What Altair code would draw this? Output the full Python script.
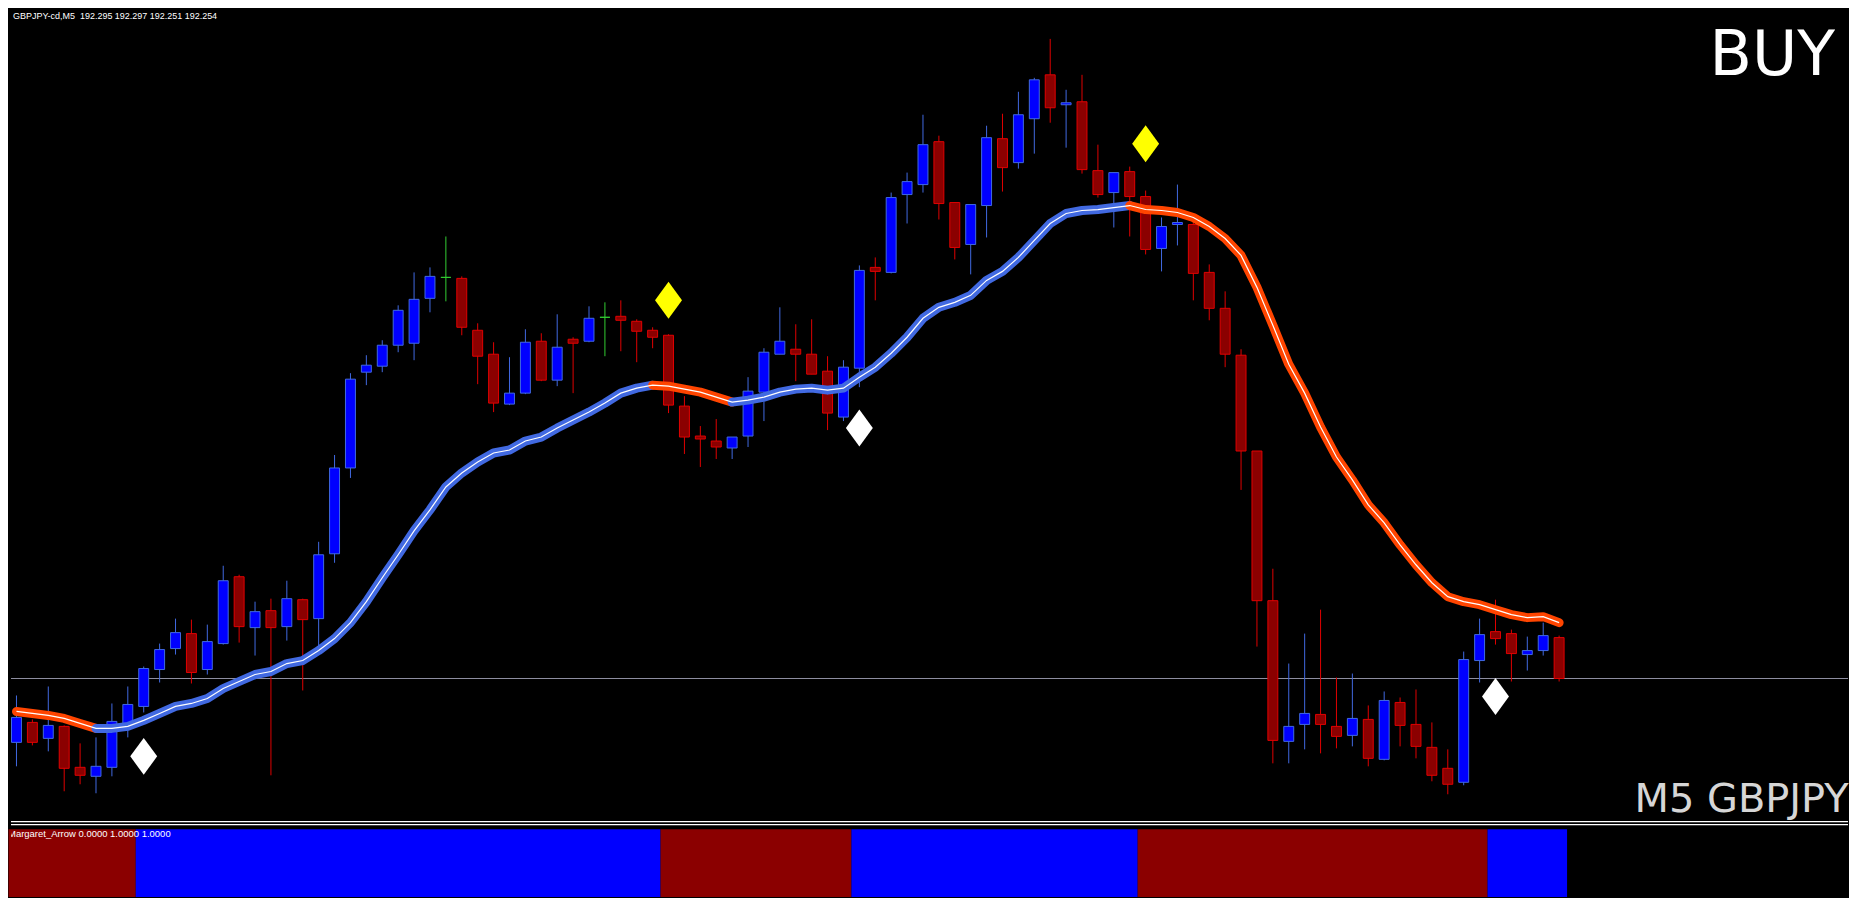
import altair as alt
import pandas as pd

# ---------------- data (GBPJPY M5) ----------------
opens = [192.190, 192.210, 192.194, 192.206, 192.165, 192.156, 192.165, 192.209, 192.226, 192.263,
         192.284, 192.299, 192.263, 192.289, 192.356, 192.305, 192.322, 192.306, 192.333, 192.314,
         192.379, 192.465, 192.561, 192.567, 192.588, 192.590, 192.635, 192.656, 192.655, 192.603,
         192.579, 192.529, 192.540, 192.592, 192.553, 192.594, 192.592, 192.616, 192.617, 192.612,
         192.603, 192.598, 192.527, 192.497, 192.492, 192.485, 192.497, 192.541, 192.579, 192.584,
         192.579, 192.562, 192.516, 192.565, 192.666, 192.661, 192.739, 192.749, 192.792, 192.731,
         192.689, 192.728, 192.795, 192.771, 192.815, 192.859, 192.829, 192.832, 192.763, 192.741,
         192.762, 192.737, 192.685, 192.709, 192.709, 192.661, 192.625, 192.578, 192.482, 192.332,
         192.191, 192.208, 192.218, 192.206, 192.197, 192.213, 192.173, 192.230, 192.208, 192.185,
         192.164, 192.150, 192.272, 192.301, 192.299, 192.278, 192.282, 192.295]
highs = [192.237, 192.213, 192.246, 192.207, 192.189, 192.195, 192.229, 192.246, 192.266, 192.289,
         192.314, 192.313, 192.308, 192.367, 192.358, 192.331, 192.334, 192.352, 192.334, 192.391,
         192.478, 192.560, 192.578, 192.593, 192.628, 192.661, 192.666, 192.697, 192.657, 192.610,
         192.591, 192.576, 192.604, 192.600, 192.619, 192.596, 192.627, 192.631, 192.633, 192.614,
         192.606, 192.599, 192.537, 192.507, 192.514, 192.496, 192.556, 192.585, 192.626, 192.609,
         192.614, 192.577, 192.573, 192.668, 192.676, 192.741, 192.761, 192.819, 192.798, 192.731,
         192.729, 192.808, 192.820, 192.842, 192.856, 192.895, 192.844, 192.859, 192.789, 192.761,
         192.767, 192.743, 192.716, 192.749, 192.713, 192.669, 192.642, 192.584, 192.482, 192.364,
         192.269, 192.299, 192.323, 192.255, 192.259, 192.227, 192.241, 192.235, 192.243, 192.210,
         192.183, 192.281, 192.314, 192.333, 192.303, 192.296, 192.310, 192.297]
lows = [192.166, 192.187, 192.181, 192.141, 192.148, 192.139, 192.156, 192.195, 192.220, 192.250,
        192.278, 192.249, 192.258, 192.288, 192.290, 192.277, 192.157, 192.292, 192.242, 192.286,
        192.370, 192.455, 192.548, 192.561, 192.581, 192.573, 192.621, 192.632, 192.598, 192.549,
        192.521, 192.528, 192.539, 192.552, 192.547, 192.540, 192.591, 192.577, 192.582, 192.571,
        192.585, 192.520, 192.479, 192.466, 192.474, 192.474, 192.486, 192.512, 192.579, 192.552,
        192.559, 192.503, 192.512, 192.546, 192.633, 192.660, 192.710, 192.741, 192.714, 192.674,
        192.659, 192.696, 192.742, 192.765, 192.780, 192.811, 192.786, 192.760, 192.736, 192.706,
        192.697, 192.679, 192.662, 192.688, 192.633, 192.613, 192.566, 192.443, 192.286, 192.169,
        192.169, 192.183, 192.179, 192.184, 192.186, 192.166, 192.172, 192.186, 192.174, 192.151,
        192.138, 192.147, 192.250, 192.288, 192.251, 192.262, 192.277, 192.251]
closes = [192.215, 192.190, 192.207, 192.164, 192.157, 192.166, 192.211, 192.228, 192.264, 192.283,
          192.300, 192.260, 192.291, 192.352, 192.306, 192.321, 192.305, 192.334, 192.313, 192.378,
          192.465, 192.554, 192.568, 192.588, 192.623, 192.634, 192.657, 192.656, 192.606, 192.577,
          192.530, 192.540, 192.591, 192.553, 192.586, 192.590, 192.615, 192.616, 192.613, 192.602,
          192.596, 192.528, 192.496, 192.494, 192.486, 192.496, 192.542, 192.581, 192.592, 192.579,
          192.559, 192.520, 192.566, 192.663, 192.662, 192.736, 192.752, 192.789, 192.730, 192.686,
          192.729, 192.796, 192.766, 192.819, 192.854, 192.826, 192.831, 192.764, 192.739, 192.761,
          192.737, 192.684, 192.707, 192.711, 192.660, 192.625, 192.579, 192.482, 192.332, 192.192,
          192.206, 192.219, 192.208, 192.196, 192.214, 192.174, 192.232, 192.207, 192.186, 192.157,
          192.148, 192.273, 192.298, 192.294, 192.279, 192.282, 192.297, 192.254]
ma_values = [192.221, 192.219, 192.217, 192.214, 192.209, 192.204, 192.204, 192.206, 192.212, 192.219,
             192.226, 192.229, 192.234, 192.244, 192.251, 192.258, 192.261, 192.269, 192.272, 192.282,
             192.294, 192.310, 192.331, 192.355, 192.378, 192.402, 192.423, 192.446, 192.460, 192.471,
             192.480, 192.483, 192.492, 192.496, 192.505, 192.513, 192.521, 192.530, 192.540, 192.545,
             192.548, 192.547, 192.544, 192.541, 192.536, 192.531, 192.533, 192.536, 192.541, 192.544,
             192.545, 192.543, 192.545, 192.556, 192.566, 192.580, 192.596, 192.615, 192.626, 192.631,
             192.638, 192.653, 192.662, 192.676, 192.693, 192.710, 192.720, 192.723, 192.724, 192.726,
             192.728, 192.724, 192.723, 192.721, 192.716, 192.707, 192.695, 192.678, 192.646, 192.608,
             192.569, 192.540, 192.506, 192.476, 192.453, 192.428, 192.410, 192.388, 192.368, 192.350,
             192.336, 192.331, 192.328, 192.323, 192.318, 192.315, 192.316, 192.310]
# MA colour runs: (first bar, last bar, direction)
ma_runs = [(0, 5, "down"), (5, 40, "up"), (40, 45, "down"), (45, 70, "up"), (70, 97, "down")]
# arrow signals
sig_bar = [8, 41, 53, 71, 93]
sig_price = [192.176, 192.633, 192.505, 192.790, 192.236]
sig_kind = ["buy", "sell", "buy", "sell", "buy"]
# Margaret_Arrow sub-window state runs (state, number of bars)
arrow_runs = [("sell", 8), ("buy", 33), ("sell", 12), ("buy", 18), ("sell", 22), ("buy", 5)]
arrow_value = 1.0

header = "GBPJPY-cd,M5\u00a0\u00a0192.295 192.297 192.251 192.254"
ind_label = "Margaret_Arrow 0.0000 1.0000 1.0000"

# ---------------- frames ----------------
W = 1841
MAIN_H = 819
IND_H = 71
xs = alt.Scale(domain=[-0.3451, 115.165], nice=False, zero=False)
ys = alt.Scale(domain=[192.106, 192.925], nice=False, zero=False)

n = len(opens)
rows = []
for i in range(n):
    o, h, l, c = opens[i], highs[i], lows[i], closes[i]
    if c > o:
        fill, line = "#0000FF", "#4169E1"
    elif c < o:
        fill, line = "#8B0000", "#E00000"
    else:
        fill, line = "#32CD32", "#32CD32"
    rows.append(dict(i=i, x0=i - 0.3125, x1=i + 0.3125, o=o, h=h, l=l, c=c,
                     top=max(o, c), bot=min(o, c), fill=fill, line=line))
candles = pd.DataFrame(rows)

ma_rows = []
for k, (a, b, d) in enumerate(ma_runs):
    for i in range(a, b + 1):
        ma_rows.append(dict(i=i, ma=ma_values[i], seg=k,
                            col="#FF4500" if d == "down" else "#4169E1"))
ma_seg = pd.DataFrame(ma_rows)
ma_df = pd.DataFrame({"i": list(range(n)), "ma": ma_values})

sig_df = pd.DataFrame({"i": sig_bar, "p": sig_price,
                       "col": ["#FFFFFF" if k == "buy" else "#FFFF00" for k in sig_kind]})

bid_df = pd.DataFrame({"p": [closes[-1]]})

run_rows = []
start = 0
for state, cnt in arrow_runs:
    run_rows.append(dict(x0=start - 0.5, x1=start + cnt - 0.5, v0=0.0, v1=arrow_value,
                         col="#0000FF" if state == "buy" else "#8B0000"))
    start += cnt
ind_df = pd.DataFrame(run_rows)

# ---------------- main panel ----------------
bid = alt.Chart(bid_df).mark_rule(color="#8E8EA0", strokeWidth=1).encode(
    y=alt.Y("p:Q", scale=ys, axis=None), x=alt.value(0), x2=alt.value(W))

wicks = alt.Chart(candles).mark_rule(strokeWidth=1).encode(
    x=alt.X("i:Q", scale=xs, axis=None),
    y=alt.Y("l:Q", scale=ys, axis=None), y2="h:Q",
    color=alt.Color("line:N", scale=None))

bodies = alt.Chart(candles).mark_rect(strokeWidth=1).encode(
    x=alt.X("x0:Q", scale=xs, axis=None), x2="x1:Q",
    y=alt.Y("bot:Q", scale=ys, axis=None), y2="top:Q",
    fill=alt.Fill("fill:N", scale=None),
    stroke=alt.Stroke("line:N", scale=None))

ma_band = alt.Chart(ma_seg).mark_line(strokeWidth=9, strokeCap="round", strokeJoin="round").encode(
    x=alt.X("i:Q", scale=xs, axis=None),
    y=alt.Y("ma:Q", scale=ys, axis=None),
    detail="seg:N", order="i:Q",
    color=alt.Color("col:N", scale=None))

ma_core = alt.Chart(ma_df).mark_line(strokeWidth=1.2, color="#FFFFFF").encode(
    x=alt.X("i:Q", scale=xs, axis=None),
    y=alt.Y("ma:Q", scale=ys, axis=None), order="i:Q")

diamond = "M0,-1L0.73,0L0,1L-0.73,0Z"
signals = alt.Chart(sig_df).mark_point(shape=diamond, size=1369, filled=True, opacity=1,
                                       strokeWidth=0).encode(
    x=alt.X("i:Q", scale=xs, axis=None),
    y=alt.Y("p:Q", scale=ys, axis=None),
    color=alt.Color("col:N", scale=None))

def label(text, **kw):
    return alt.Chart(pd.DataFrame({"t": [text]})).mark_text(**kw).encode(text="t:N")

t_head = label(header, x=2, y=10, align="left", baseline="alphabetic",
               font="Liberation Sans", fontSize=9, color="#FFFFFF")
t_buy = label("BUY", x=1828, y=66, align="right", baseline="alphabetic",
              font="DejaVu Sans", fontSize=62, color="#FFFFFF")
t_sym = label("M5 GBPJPY", x=1627, y=805, align="left", baseline="alphabetic",
              font="DejaVu Sans", fontSize=40, color="#D6D6D6")

one = pd.DataFrame({"k": [0]})
sep1 = alt.Chart(one).mark_rule(color="#FFFFFF", strokeWidth=1.2).encode(
    x=alt.value(0), x2=alt.value(W), y=alt.value(814.5))
sep2 = alt.Chart(one).mark_rule(color="#FFFFFF", strokeWidth=1.2).encode(
    x=alt.value(0), x2=alt.value(W), y=alt.value(817.5))

main = alt.layer(bid, wicks, bodies, ma_band, ma_core, signals,
                 t_head, t_buy, t_sym, sep1, sep2).properties(width=W, height=MAIN_H)

# ---------------- indicator panel ----------------
iys = alt.Scale(domain=[0.0, 1.04412], nice=False, zero=False)
ind_bars = alt.Chart(ind_df).mark_rect().encode(
    x=alt.X("x0:Q", scale=xs, axis=None), x2="x1:Q",
    y=alt.Y("v0:Q", scale=iys, axis=None), y2="v1:Q",
    color=alt.Color("col:N", scale=None))
t_ind = label(ind_label, x=-3, y=10.5, align="left", baseline="alphabetic", clip=True,
              font="Liberation Sans", fontSize=9.5, color="#FFFFFF")
ind = alt.layer(ind_bars, t_ind).properties(width=W, height=IND_H)

chart = alt.vconcat(main, ind, spacing=0).resolve_scale(y="independent").properties(
    background="#000000", padding=0
).configure_view(strokeWidth=0).configure_concat(spacing=0)

chart.save("out.html", embed_options={"renderer": "svg", "actions": False})
